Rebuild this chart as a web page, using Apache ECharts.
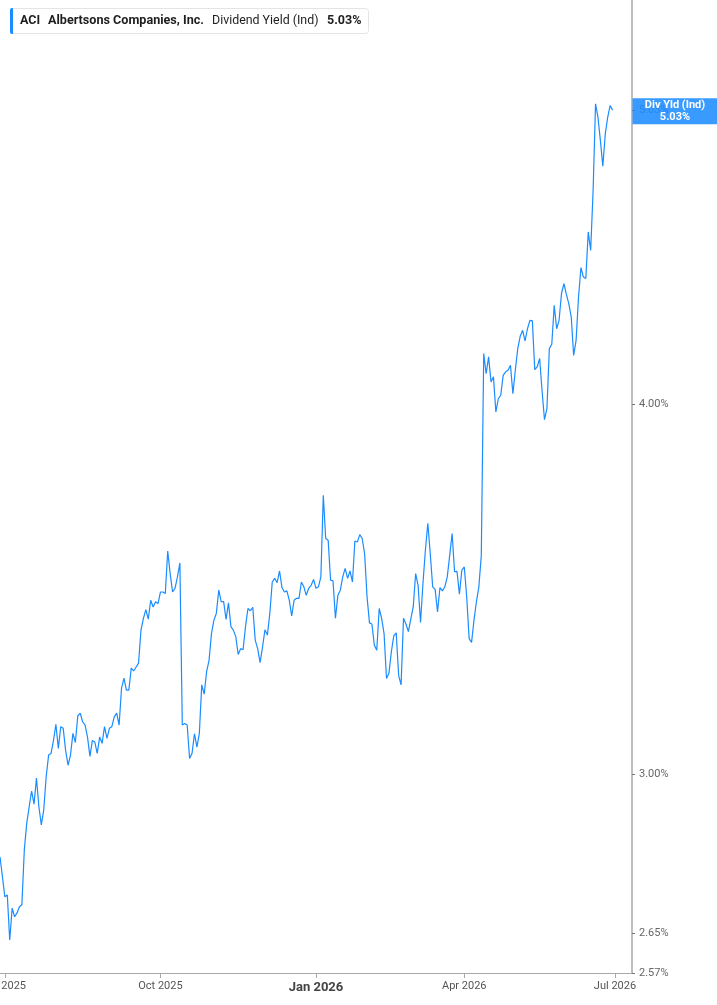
<!DOCTYPE html>
<html><head><meta charset="utf-8">
<script src="https://cdn.jsdelivr.net/npm/echarts@6/dist/echarts.min.js"></script>
<style>html,body{margin:0;padding:0;background:#fff}#c{width:717px;height:1005px}</style>
</head><body><div id="c"></div>
<script>
// ---- data ----
const startDate = '2025-06-27';
const endDate = '2026-07-13';
const holidays = ['2025-07-04','2025-09-01','2025-11-27','2025-12-25','2026-01-01','2026-01-19','2026-02-16','2026-04-03','2026-05-25','2026-06-19','2026-07-03'];
const yieldValues = [
2.813,2.770,2.727,2.731,2.637,2.703,2.685,2.693,2.706,2.710,
2.828,2.888,2.925,2.961,2.931,2.991,2.925,2.884,2.918,2.994,
3.045,3.049,3.080,3.119,3.061,3.113,3.109,3.056,3.021,3.045,
3.097,3.075,3.139,3.146,3.125,3.117,3.088,3.042,3.080,3.076,
3.049,3.088,3.073,3.113,3.085,3.109,3.113,3.137,3.146,3.117,
3.208,3.233,3.203,3.203,3.258,3.251,3.261,3.271,3.356,3.387,
3.410,3.385,3.435,3.417,3.431,3.426,3.457,3.457,3.453,3.569,
3.507,3.457,3.467,3.498,3.536,3.117,3.121,3.117,3.037,3.049,
3.096,3.064,3.096,3.216,3.193,3.249,3.278,3.347,3.382,3.400,
3.462,3.431,3.431,3.384,3.428,3.365,3.356,3.339,3.293,3.308,
3.305,3.365,3.413,3.407,3.416,3.330,3.308,3.272,3.312,3.357,
3.343,3.400,3.484,3.494,3.482,3.514,3.469,3.457,3.460,3.435,
3.393,3.435,3.440,3.440,3.484,3.471,3.448,3.467,3.475,3.491,
3.467,3.471,3.498,3.727,3.604,3.599,3.489,3.487,3.387,3.448,
3.462,3.498,3.521,3.494,3.514,3.484,3.597,3.594,3.615,3.604,
3.562,3.444,3.375,3.372,3.317,3.304,3.413,3.387,3.347,3.232,
3.245,3.300,3.341,3.349,3.240,3.216,3.387,3.372,3.352,3.385,
3.417,3.507,3.475,3.376,3.480,3.571,3.647,3.562,3.471,3.464,
3.404,3.469,3.460,3.471,3.498,3.557,3.618,3.512,3.513,3.451,
3.516,3.525,3.444,3.334,3.324,3.382,3.431,3.471,3.557,4.162,
4.097,4.151,4.071,4.087,3.977,4.018,4.029,4.092,4.103,4.108,
4.124,4.034,4.108,4.178,4.218,4.238,4.203,4.243,4.271,4.269,
4.110,4.119,4.146,4.044,3.953,3.987,4.178,4.192,4.321,4.243,
4.271,4.361,4.395,4.358,4.327,4.282,4.156,4.205,4.349,4.450,
4.417,4.412,4.575,4.510,4.725,5.055,5.002,4.912,4.815,4.937,
5.002,5.048,5.030
];
const yTickValues = [2.57, 2.65, 3.00, 4.00, 5.03];
const yMin = 2.57, yMax = 5.48;
const currentValue = 5.03;
const currentLabel = 'Div Yld (Ind)';
const monthNames = ['Jan','Feb','Mar','Apr','May','Jun','Jul','Aug','Sep','Oct','Nov','Dec'];

// ---- trading-day categories ----
function tradingDays(s, e) {
  const out = [];
  const d = new Date(s + 'T00:00:00Z');
  const end = new Date(e + 'T00:00:00Z');
  while (d <= end) {
    const w = d.getUTCDay();
    const iso = d.toISOString().slice(0, 10);
    if (w !== 0 && w !== 6 && holidays.indexOf(iso) < 0) out.push(iso);
    d.setUTCDate(d.getUTCDate() + 1);
  }
  return out;
}
const dates = tradingDays(startDate, endDate);
const quarterStart = new Set();
for (let i = 1; i < dates.length; i++) {
  const m = +dates[i].slice(5, 7), pm = +dates[i - 1].slice(5, 7);
  if (m !== pm && (m - 1) % 3 === 0) quarterStart.add(i);
}
const isQ = (i) => quarterStart.has(i);

const chart = echarts.init(document.getElementById('c'), null, {renderer: 'canvas'});
const FONT = 'Roboto, "Liberation Sans", sans-serif';
chart.setOption({
  animation: false,
  textStyle: {fontFamily: FONT},
  grid: {left: 0, right: 85, top: 0, bottom: 32, containLabel: false, outerBoundsMode: 'none'},
  xAxis: {
    type: 'category',
    data: dates,
    boundaryGap: false,
    axisLine: {show: true, lineStyle: {color: '#a8a8a8', width: 1}},
    axisTick: {show: true, interval: isQ, length: 5, lineStyle: {color: '#a8a8a8'}},
    axisLabel: {
      interval: isQ, margin: 8, color: '#555', fontSize: 11, fontFamily: FONT,
      formatter: (v) => {
        const m = +v.slice(5, 7);
        const txt = monthNames[m - 1] + ' ' + v.slice(0, 4);
        return m === 1 ? '{j|' + txt + '}' : txt;
      },
      rich: {j: {fontSize: 13, fontWeight: 'bold', color: '#444', fontFamily: FONT}}
    },
    splitLine: {show: false}
  },
  yAxis: {
    type: 'value',
    position: 'right',
    min: Math.log(yMin),
    max: Math.log(yMax),
    axisLine: {show: true, lineStyle: {color: '#a8a8a8', width: 1.5}},
    axisTick: {show: true, length: 3, customValues: yTickValues.map(Math.log), lineStyle: {color: '#777'}},
    axisLabel: {
      show: true, margin: 7, color: '#666', fontSize: 11, fontFamily: FONT,
      customValues: yTickValues.map(Math.log),
      formatter: (v) => Math.exp(v).toFixed(2) + '%'
    },
    splitLine: {show: false}
  },
  series: [{
    type: 'line',
    data: yieldValues.map(Math.log),
    showSymbol: false,
    symbol: 'none',
    lineStyle: {color: '#1a8cff', width: 1.2},
    itemStyle: {color: '#1a8cff'},
    markLine: {
      silent: true,
      symbol: 'none',
      lineStyle: {color: 'rgba(0,0,0,0)', width: 0},
      emphasis: {disabled: true},
      data: [{yAxis: Math.log(currentValue)}],
      label: {
        show: true, position: 'end', distance: 0.5, offset: [0, 7],
        formatter: '{a|' + currentLabel + '}\n{a|' + currentValue.toFixed(2) + '%}',
        backgroundColor: 'rgba(30,140,255,0.88)',
        padding: [1, 0, 1, 0],
        rich: {a: {width: 85, align: 'center', color: '#fff', fontWeight: 'bold', fontSize: 11, lineHeight: 12, fontFamily: FONT}}
      }
    }
  }],
  graphic: [
    {type: 'rect', shape: {x: 10.5, y: 8.5, width: 358, height: 25, r: 3}, style: {fill: '#fff', stroke: '#e4e4e4', lineWidth: 1}, z: 10},
    {type: 'rect', shape: {x: 10, y: 8, width: 3, height: 26, r: [2, 0, 0, 2]}, style: {fill: '#1a8cff'}, z: 11},
    {type: 'text', x: 20, y: 21, style: {text: 'ACI', font: 'bold 12.5px ' + FONT, fill: '#1e1e1e', verticalAlign: 'middle'}, z: 11},
    {type: 'text', x: 48, y: 21, style: {text: 'Albertsons Companies, Inc.', font: 'bold 12.6px ' + FONT, fill: '#1e1e1e', verticalAlign: 'middle'}, z: 11},
    {type: 'text', x: 212, y: 21, style: {text: 'Dividend Yield (Ind)', font: '12.4px ' + FONT, fill: '#1e1e1e', verticalAlign: 'middle'}, z: 11},
    {type: 'text', x: 327, y: 21, style: {text: currentValue.toFixed(2) + '%', font: 'bold 12.5px ' + FONT, fill: '#1e1e1e', verticalAlign: 'middle'}, z: 11}
  ]
});
</script></body></html>
